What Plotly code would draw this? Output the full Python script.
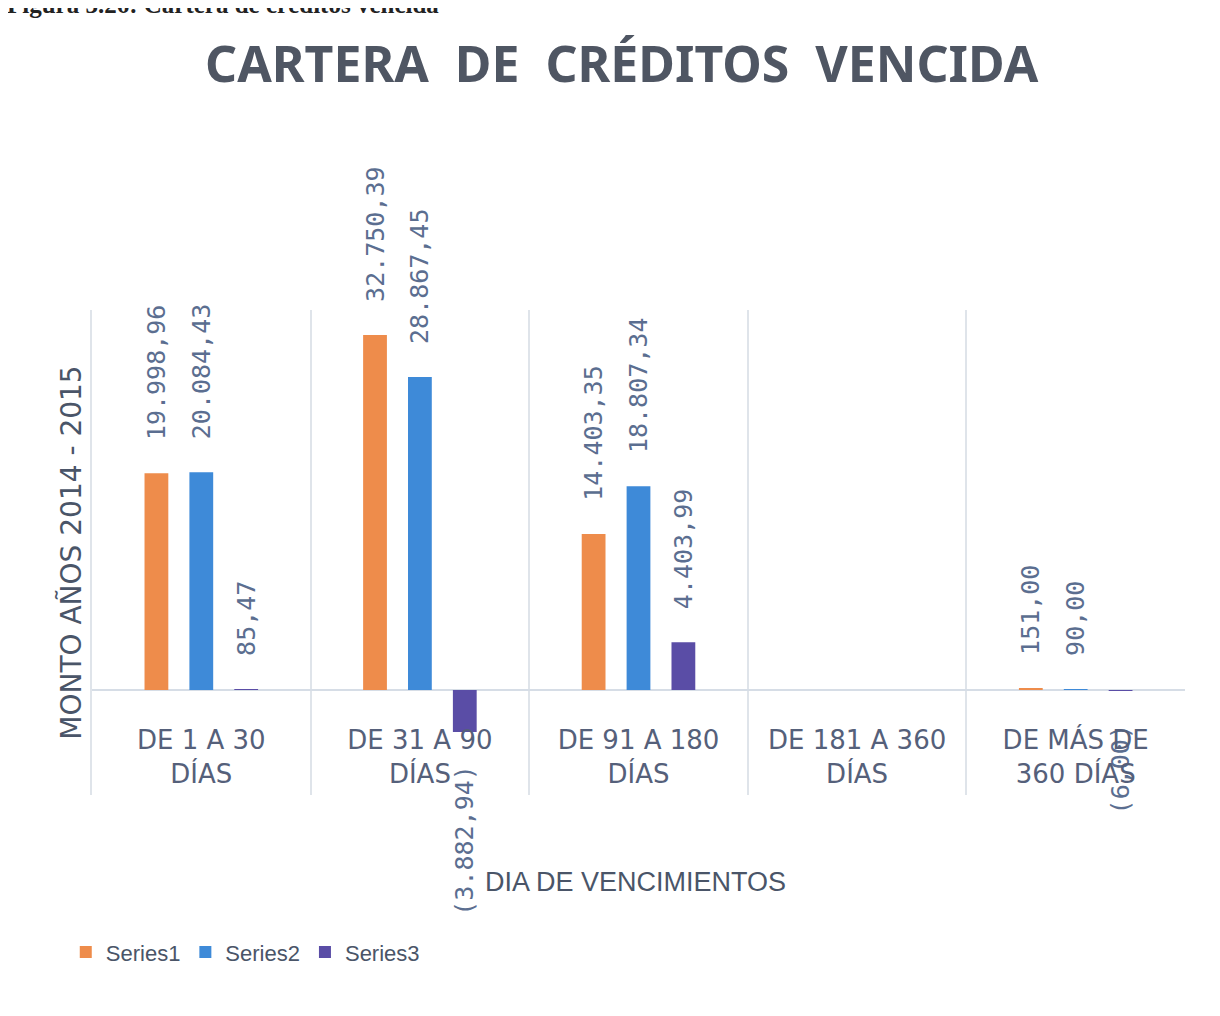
import plotly.graph_objects as go

# datos
categorias = ["DE 1 A 30<br>DÍAS", "DE 31 A 90<br>DÍAS", "DE 91 A 180<br>DÍAS",
              "DE 181 A 360<br>DÍAS", "DE MÁS DE<br>360 DÍAS"]
series1 = [19998.96, 32750.39, 14403.35, None, 151.00]
series2 = [20084.43, 28867.45, 18807.34, None, 90.00]
series3 = [85.47, -3882.94, 4403.99, None, -6.00]

nombres = ["Series1", "Series2", "Series3"]
colores = ["#EE8C4B", "#3E8AD8", "#5A4DA6"]

NBSP = "\u00a0"


def etiqueta(v):
    # formato contable: miles con punto, decimales con coma, negativos entre parentesis
    if v is None:
        return ""
    s = f"{abs(v):,.2f}".replace(",", "X").replace(".", ",").replace("X", ".")
    if v < 0:
        return f"({s})" + NBSP * 2
    return NBSP * 2 + s


fig = go.Figure()
for nombre, valores, color in zip(nombres, [series1, series2, series3], colores):
    fig.add_trace(go.Bar(
        x=categorias,
        y=valores,
        name=nombre,
        marker=dict(color=color, line=dict(width=0)),
        text=[etiqueta(v) for v in valores],
        textposition="outside",
        textangle=-90,
        constraintext="none",
        cliponaxis=False,
        textfont=dict(family="DejaVu Sans Mono", size=25, color="#5b6e90"),
    ))

y_min, y_max = -9687, 35058

fig.update_layout(
    width=1220,
    height=1016,
    paper_bgcolor="white",
    plot_bgcolor="white",
    margin=dict(l=84, r=43, t=302, b=229),
    barmode="group",
    bargap=0.384,
    bargroupgap=0.47,
    title=dict(
        text="CARTERA  DE  CRÉDITOS  VENCIDA",
        font=dict(family="Noto Sans", size=50, color="#4f5663", weight="bold"),
        x=0.503, xanchor="center",
        yref="container", y=0.944, yanchor="middle",
    ),
    xaxis=dict(
        type="category",
        tickson="boundaries",
        showgrid=True,
        gridcolor="#dfe4ea",
        gridwidth=1.5,
        showline=False,
        ticks="",
        anchor="free",
        position=(0 - y_min) / (y_max - y_min),
        ticklabelstandoff=32,
        tickfont=dict(family="DejaVu Sans", size=26, color="#55607a"),
    ),
    yaxis=dict(
        range=[y_min, y_max],
        showgrid=False,
        showticklabels=False,
        zeroline=True,
        zerolinecolor="#d6dde6",
        zerolinewidth=1.5,
        showline=True,
        linecolor="#dfe4ea",
        linewidth=1.5,
    ),
    legend=dict(
        orientation="h",
        x=-0.024, xanchor="left",
        y=-0.324, yanchor="middle",
        font=dict(family="Liberation Sans", size=22, color="#4a5568"),
        itemwidth=30,
        traceorder="normal",
    ),
    annotations=[
        dict(
            text="MONTO AÑOS 2014 - 2015",
            xref="paper", yref="paper",
            x=-0.019, y=0.5,
            xanchor="center", yanchor="middle",
            textangle=-90,
            showarrow=False,
            font=dict(family="DejaVu Sans", size=28, color="#4a5568"),
        ),
        dict(
            text="DIA DE VENCIMIENTOS",
            xref="paper", yref="paper",
            x=0.497, y=-0.179,
            xanchor="center", yanchor="middle",
            showarrow=False,
            font=dict(family="Liberation Sans", size=27, color="#4a5568"),
        ),
        dict(
            text="<b>Figura 3.26: Cartera de créditos vencida</b>",
            xref="paper", yref="paper",
            x=-0.08, y=1.63,
            xanchor="left", yanchor="middle",
            showarrow=False,
            font=dict(family="Liberation Serif", size=25, color="#222222"),
        ),
    ],
)

fig.write_html("out.html")
